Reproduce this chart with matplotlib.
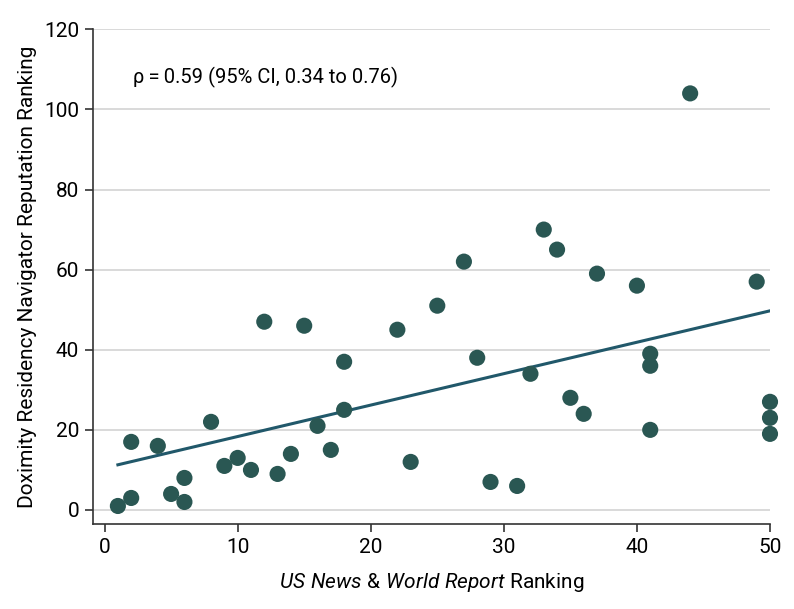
import numpy as np
import matplotlib
matplotlib.use('Agg')
import matplotlib.pyplot as plt

## Datos
usnews = [1, 2, 2, 4, 5, 6, 6, 8, 9, 10, 11, 12, 13, 14, 15, 16, 17, 18, 18, 22,
          23, 25, 27, 28, 29, 31, 32, 33, 34, 35, 36, 37, 40, 41, 41, 41, 44, 49,
          50, 50, 50]
doximity = [1, 17, 3, 16, 4, 8, 2, 22, 11, 13, 10, 47, 9, 14, 46, 21, 15, 37, 25, 45,
            12, 51, 62, 38, 7, 6, 34, 70, 65, 28, 24, 59, 56, 39, 36, 20, 104, 57,
            27, 23, 19]
xticks = [0, 10, 20, 30, 40, 50]
yticks = [0, 20, 40, 60, 80, 100, 120]
texto_rho = u'\u03c1\u2009=\u20090.59 (95% CI, 0.34 to 0.76)'

plt.rcParams['font.family'] = ['Roboto', 'DejaVu Sans']
plt.rcParams['mathtext.fontset'] = 'custom'
plt.rcParams['mathtext.rm'] = 'Roboto'
plt.rcParams['mathtext.it'] = 'Roboto:italic'

x = np.array(usnews, dtype=float)
y = np.array(doximity, dtype=float)

## recta de ajuste por minimos cuadrados
m, b = np.polyfit(x, y, 1)
xf = np.array([x.min(), x.max()])

fig = plt.figure(figsize=(7.94, 6.09), dpi=100)
ax = fig.add_axes([93/794, 1 - 524/609, (770 - 93)/794, (524 - 29.3)/609])

for yt in yticks:
    ax.axhline(yt, color='#d9d9d9', linewidth=1.4, zorder=0)

ax.scatter(x, y, s=135, color='#2a5753', edgecolors='none', zorder=3, clip_on=False)
ax.plot(xf, m*xf + b, color='#21586a', linewidth=2.2, zorder=2)

ax.set_xlim(-0.87, 50)
ax.set_ylim(-3.5, 120)
ax.set_xticks(xticks)
ax.set_yticks(yticks)

ax.spines['top'].set_visible(False)
ax.spines['right'].set_visible(False)
for s in ['left', 'bottom']:
    ax.spines[s].set_linewidth(1.2)
    ax.spines[s].set_color('#333333')

ax.tick_params(axis='both', labelsize=15, length=6, width=1.2, color='#333333', pad=4)

ax.set_ylabel('Doximity Residency Navigator Reputation Ranking', fontsize=15, labelpad=5)
ax.set_xlabel(r'$\it{US\ News\ &\ World\ Report}$ Ranking', fontsize=15, labelpad=10)

ax.text(2.15, 108, texto_rho, fontsize=14.5, va='center', ha='left')

plt.savefig('out.png', dpi=100)
